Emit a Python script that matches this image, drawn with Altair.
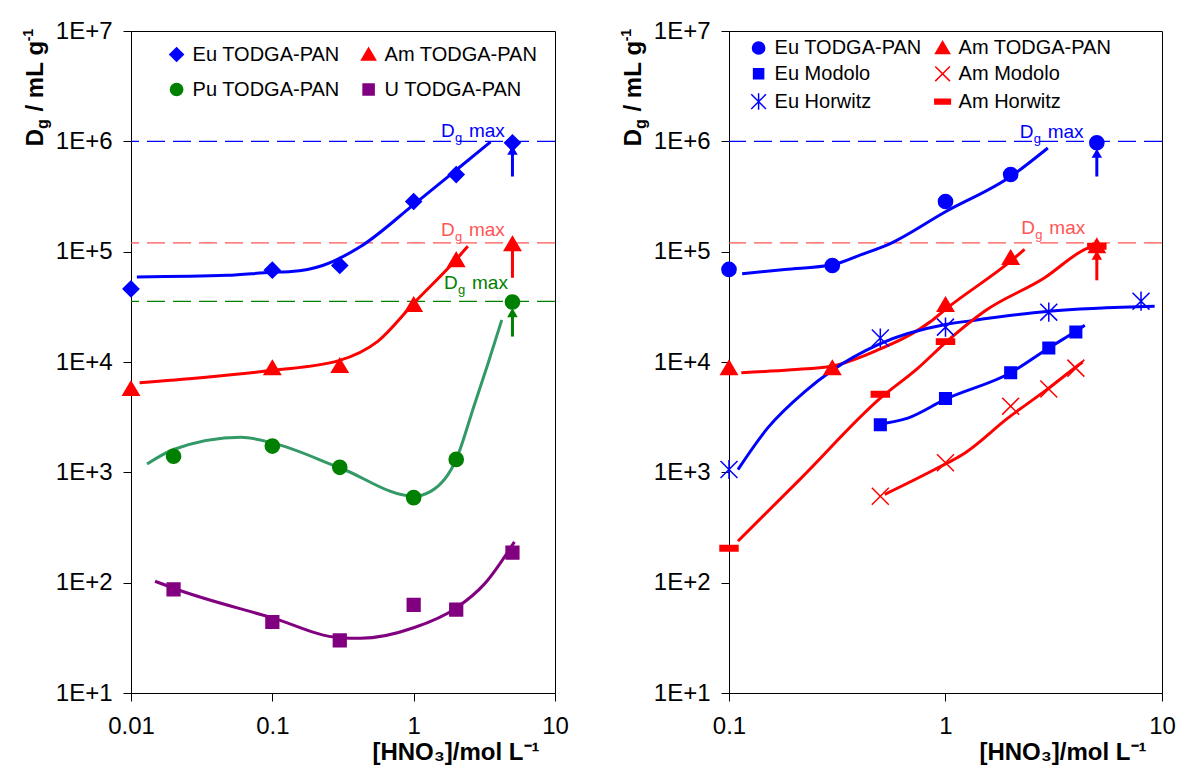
import altair as alt
import pandas as pd

FONT = "Liberation Sans"
BLUE = "#0000FF"
RED = "#FF0000"
GREEN = "#008000"
SEA = "#339966"
PURPLE = "#800080"
DG_RED = "#FF5555"

Y_TICKS = [10, 100, 1000, 1e4, 1e5, 1e6, 1e7]

# ---------------- left panel ----------------
L_series = ["Eu TODGA-PAN", "Am TODGA-PAN", "Pu TODGA-PAN", "U TODGA-PAN"]
L_eu_x = [0.01, 0.1, 0.3, 1, 2, 5]
L_eu_y = [4.6e4, 6.8e4, 7.5e4, 2.85e5, 5.0e5, 9.7e5]
L_am_x = [0.01, 0.1, 0.3, 1, 2, 5]
L_am_y = [5.7e3, 8.8e3, 9.2e3, 3.3e4, 8.4e4, 1.17e5]
L_pu_x = [0.02, 0.1, 0.3, 1, 2, 5]
L_pu_y = [1.4e3, 1.73e3, 1.11e3, 590, 1.31e3, 3.5e4]
L_u_x = [0.02, 0.1, 0.3, 1, 2, 5]
L_u_y = [87, 44, 30, 63, 57, 187]

L_eu_fit_x = [0.011, 0.048, 0.1, 0.136, 0.227, 0.424, 1.0, 2.0, 3.5]
L_eu_fit_y = [5.9e4, 6.1e4, 6.5e4, 6.6e4, 7.5e4, 1.12e5, 2.67e5, 5.5e5, 9.9e5]
L_am_fit_x = [0.0115, 0.031, 0.1, 0.295, 0.557, 1.0, 2.0, 2.42]
L_am_fit_y = [6.5e3, 7.2e3, 8.4e3, 1.03e4, 1.54e4, 3.4e4, 8.5e4, 1.12e5]
L_pu_fit_x = [0.013, 0.02, 0.06, 0.1, 0.3, 1.0, 1.33, 2.0, 2.69, 3.34, 4.2]
L_pu_fit_y = [1.19e3, 1.61e3, 2.08e3, 1.85e3, 1.1e3, 608, 676, 1.31e3, 4.1e3, 9.5e3, 2.4e4]
L_u_fit_x = [0.0148, 0.02, 0.1, 0.3, 0.42, 1.0, 2.0, 3.16, 5.16]
L_u_fit_y = [103, 89, 48, 31.7, 31.3, 39, 59, 97, 234]

L_dgmax = [1e6, 1.2e5, 3.55e4]
L_label_x = [1.56, 1.56, 1.64]
L_label_y = [1.09e6, 1.38e5, 4.56e4]
L_arrow_x = [5, 5, 5]
L_arrow_from = [4.8e5, 5.8e4, 1.7e4]
L_arrow_to = [8.3e5, 1.15e5, 2.8e4]
L_arrow_head = [True, False, True]

# ---------------- right panel ----------------
R_series = ["Eu TODGA-PAN", "Am TODGA-PAN", "Eu Modolo", "Am Modolo", "Eu Horwitz", "Am Horwitz"]
R_eu_x = [0.1, 0.3, 1, 2, 5]
R_eu_y = [6.9e4, 7.5e4, 2.85e5, 5.0e5, 9.7e5]
R_am_x = [0.1, 0.3, 1, 2, 5]
R_am_y = [8.8e3, 8.8e3, 3.3e4, 8.8e4, 1.12e5]
R_eumod_x = [0.5, 1, 2, 3, 4]
R_eumod_y = [2.7e3, 4.67e3, 8.0e3, 1.34e4, 1.87e4]
R_ammod_x = [0.5, 1, 2, 3, 4]
R_ammod_y = [608, 1.22e3, 3.98e3, 5.7e3, 8.8e3]
R_euhor_x = [0.1, 0.5, 1, 3, 8]
R_euhor_y = [1.06e3, 1.65e4, 2.07e4, 2.83e4, 3.56e4]
R_amhor_x = [0.1, 0.5, 1, 5]
R_amhor_y = [205, 5.1e3, 1.53e4, 1.12e5]

R_eu_fit_x = [0.115, 0.181, 0.3, 0.408, 0.543, 1.0, 2.0, 2.97]
R_eu_fit_y = [6.3e4, 6.9e4, 7.6e4, 9.4e4, 1.16e5, 2.3e5, 4.8e5, 8.7e5]
R_am_fit_x = [0.114, 0.194, 0.3, 0.471, 0.86, 1.0, 2.0, 2.32]
R_am_fit_y = [8.0e3, 8.5e3, 9.2e3, 1.25e4, 2.35e4, 3.0e4, 8.2e4, 1.05e5]
R_eumod_fit_x = [0.47, 0.67, 1.0, 2.0, 3.0, 4.0, 4.4]
R_eumod_fit_y = [2.7e3, 3.1e3, 4.6e3, 8.0e3, 1.34e4, 1.9e4, 2.15e4]
R_ammod_fit_x = [0.524, 0.89, 1.23, 1.94, 3.0, 4.06, 4.3]
R_ammod_fit_y = [631, 1.06e3, 1.5e3, 3.1e3, 5.8e3, 9.2e3, 1.0e4]
R_euhor_fit_x = [0.11, 0.151, 0.224, 0.297, 0.488, 1.0, 1.32, 3.0, 9.25]
R_euhor_fit_y = [1.06e3, 2.53e3, 5.4e3, 8.3e3, 1.44e4, 2.19e4, 2.37e4, 2.88e4, 3.2e4]
R_amhor_fit_x = [0.11, 0.216, 0.5, 0.746, 1.0, 1.52, 2.87, 4.4, 5.0]
R_amhor_fit_y = [238, 891, 4.7e3, 8.8e3, 1.5e4, 2.9e4, 5.8e4, 1.05e5, 1.16e5]

R_dgmax = [1e6, 1.2e5]
R_label_x = [2.2, 2.24]
R_label_y = [1.08e6, 1.44e5]
R_arrow_x = [5, 5]
R_arrow_from = [4.8e5, 5.5e4]
R_arrow_to = [7.8e5, 9.3e4]
R_arrow_head = [True, True]

# marker outlines (unit box, scaled by the mark size)
DIAMOND = "M-1.1,0L0,-1.1L1.1,0L0,1.1Z"
TRIANGLE = "M0,-1.05L1.15,0.9L-1.15,0.9Z"
SQUARE_L = "M-0.9,-0.9H0.9V0.9H-0.9Z"
SQUARE_R = "M-0.82,-0.82H0.82V0.82H-0.82Z"
CROSS = "M-1.2,-1.2L1.2,1.2M-1.2,1.2L1.2,-1.2"
STAR = "M-1.2,-1.2L1.2,1.2M-1.2,1.2L1.2,-1.2M0,-1.35L0,1.35"
DASH = "M-1.27,-0.38H1.27V0.38H-1.27Z"


def table(series, xs, ys):
    rows = []
    for s, xv, yv in zip(series, xs, ys):
        for a, b in zip(xv, yv):
            rows.append({"series": s, "curve": "fit " + s, "x": a, "y": b})
    return pd.DataFrame(rows)


def panel(width, xdom, xticks, pts, fits, series, pt_colors, shapes,
          line_colors, dgmax, dg_colors, lab_x, lab_y, arr_x, arr_from, arr_to,
          arr_head, arr_colors, leg_x, leg_y, leg_row, leg_col):
    xs = alt.Scale(type="log", domain=xdom, nice=False)
    ys = alt.Scale(type="log", domain=[10, 1e7], nice=False)
    xaxis = alt.Axis(values=xticks, format="~g", title="[HNO₃]/mol L⁻¹",
                     titleX=width - 16, titleY=66, titleAlign="right",
                     titleBaseline="alphabetic", labelPadding=13, tickSize=8,
                     labelFlush=False)
    yaxis = alt.Axis(values=Y_TICKS, labelExpr="'1E+' + round(log(datum.value)/LN10)",
                     title=None, labelPadding=11, tickSize=8, labelFlush=False)
    X = alt.X("x:Q", scale=xs, axis=xaxis)
    Y = alt.Y("y:Q", scale=ys, axis=yaxis)
    layers = []
    # Dg max dashed levels
    for v, c in zip(dgmax, dg_colors):
        layers.append(alt.Chart(pd.DataFrame({"y": [v]})).mark_rule(
            color=c, strokeWidth=1.3, strokeDash=[18, 8]).encode(y=Y))
    # fitted curves
    layers.append(alt.Chart(fits).mark_line(interpolate="monotone", strokeWidth=3).encode(
        x=X, y=Y,
        color=alt.Color("curve:N", scale=alt.Scale(domain=["fit " + s for s in series],
                                                   range=line_colors), legend=None)))
    # arrows
    for ax, a0, a1, h, c in zip(arr_x, arr_from, arr_to, arr_head, arr_colors):
        df = pd.DataFrame({"x": [ax], "y": [a0], "y2": [a1]})
        layers.append(alt.Chart(df).mark_rule(color=c, strokeWidth=3).encode(x=X, y=Y, y2="y2:Q"))
        if h:
            dh = pd.DataFrame({"x": [ax], "y": [a1]})
            layers.append(alt.Chart(dh).mark_point(shape="triangle-up", filled=True, size=110,
                                                   color=c, opacity=1).encode(x=X, y=Y))
    # Dg max labels
    for lx, ly, c in zip(lab_x, lab_y, dg_colors):
        dl = alt.Chart(pd.DataFrame({"x": [lx], "y": [ly]}))
        common = dict(align="left", baseline="alphabetic", font=FONT, color=c)
        layers.append(dl.mark_text(text="D", fontSize=19, **common).encode(x=X, y=Y))
        layers.append(dl.mark_text(text="g", fontSize=13, dx=14, dy=5, **common).encode(x=X, y=Y))
        layers.append(dl.mark_text(text="max", fontSize=19, dx=28, **common).encode(x=X, y=Y))
    # markers with legend
    leg = alt.Legend(orient="none", legendX=leg_x, legendY=leg_y, columns=2,
                     direction="horizontal", title=None,
                     labelFont=FONT, labelFontSize=20, labelColor="black", symbolSize=150,
                     symbolStrokeWidth=1.5, rowPadding=leg_row, columnPadding=leg_col,
                     labelOffset=6, padding=0)
    layers.append(alt.Chart(pts).mark_point(filled=True, strokeWidth=1.5, opacity=1, size=200).encode(
        x=X, y=Y,
        fill=alt.Fill("series:N", scale=alt.Scale(domain=series, range=pt_colors), legend=leg),
        stroke=alt.Stroke("series:N", scale=alt.Scale(domain=series, range=pt_colors), legend=leg),
        shape=alt.Shape("series:N", scale=alt.Scale(domain=series, range=shapes), legend=leg)))
    # y axis title pieces (rotated)
    def ytxt(t, fs, xp, yp):
        return alt.Chart(pd.DataFrame({"t": [t]})).mark_text(
            text=t, angle=270, align="left", baseline="alphabetic", font=FONT,
            fontSize=fs, fontWeight="bold", color="black").encode(
            x=alt.value(xp), y=alt.value(yp))
    layers.append(ytxt("D", 24, -88, 115.3))
    layers.append(ytxt("g", 16, -83, 98.0))
    layers.append(ytxt("/\u00a0mL\u00a0g", 24, -88, 80.5))
    layers.append(ytxt("-1", 14, -98, 10.3))
    return alt.layer(*layers).properties(width=width, height=662)


left = panel(
    424, [0.01, 10], [0.01, 0.1, 1, 10],
    table(L_series, [L_eu_x, L_am_x, L_pu_x, L_u_x], [L_eu_y, L_am_y, L_pu_y, L_u_y]),
    table(L_series, [L_eu_fit_x, L_am_fit_x, L_pu_fit_x, L_u_fit_x],
          [L_eu_fit_y, L_am_fit_y, L_pu_fit_y, L_u_fit_y]),
    L_series, [BLUE, RED, GREEN, PURPLE], [DIAMOND, TRIANGLE, "circle", SQUARE_L],
    [BLUE, RED, SEA, PURPLE],
    L_dgmax, [BLUE, DG_RED, GREEN], L_label_x, L_label_y,
    L_arrow_x, L_arrow_from, L_arrow_to, L_arrow_head, [BLUE, RED, GREEN],
    35.6, 13.5, 15, 17)

right = panel(
    433, [0.1, 10], [0.1, 1, 10],
    table(R_series, [R_eu_x, R_am_x, R_eumod_x, R_ammod_x, R_euhor_x, R_amhor_x],
          [R_eu_y, R_am_y, R_eumod_y, R_ammod_y, R_euhor_y, R_amhor_y]),
    table(R_series, [R_eu_fit_x, R_am_fit_x, R_eumod_fit_x, R_ammod_fit_x, R_euhor_fit_x, R_amhor_fit_x],
          [R_eu_fit_y, R_am_fit_y, R_eumod_fit_y, R_ammod_fit_y, R_euhor_fit_y, R_amhor_fit_y]),
    R_series, [BLUE, RED, BLUE, RED, BLUE, RED],
    ["circle", TRIANGLE, SQUARE_R, CROSS, STAR, DASH],
    [BLUE, RED, BLUE, RED, BLUE, RED],
    R_dgmax, [BLUE, DG_RED], R_label_x, R_label_y,
    R_arrow_x, R_arrow_from, R_arrow_to, R_arrow_head, [BLUE, RED],
    19.6, 7, 4.8, 9)

chart = alt.hconcat(left, right, spacing=174, bounds="flush").resolve_scale(
    x="independent", y="independent", color="independent", fill="independent",
    stroke="independent", shape="independent"
).properties(
    padding={"left": 21, "top": 18, "right": 0, "bottom": 0}
).configure_view(
    stroke="black", strokeWidth=1
).configure_axis(
    grid=False, domainColor="black", tickColor="black", labelColor="black",
    labelFont=FONT, labelFontSize=24, titleFont=FONT, titleFontSize=24,
    titleFontWeight="bold", titleColor="black", domainWidth=1, tickWidth=1
)

chart.save("out.html", embed_options={"renderer": "svg", "actions": False})
